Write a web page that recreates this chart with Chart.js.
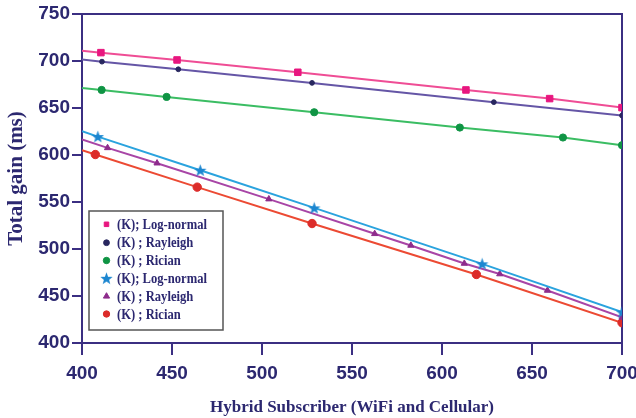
<!DOCTYPE html>
<html><head><meta charset="utf-8">
<script src="https://cdn.jsdelivr.net/npm/chart.js@4.4.1/dist/chart.umd.min.js"></script>
<style>html,body{margin:0;padding:0;background:#fff}#wrap{width:636px;height:418px;position:relative}</style>
</head><body><div id="wrap"><canvas id="c" width="636" height="418"></canvas></div>
<script>
// ---- data ----
const xTickValues = [400, 450, 500, 550, 600, 650, 700];
const yTickValues = [400, 450, 500, 550, 600, 650, 700, 750];
const seriesNames = ['(K); Log-normal', '(K) ; Rayleigh', '(K) ; Rician', '(K); Log-normal', '(K) ; Rayleigh', '(K) ; Rician'];

const logNormalTopX = [400, 410.5, 452.8, 519.9, 613.3, 659.8, 700];
const logNormalTopY = [711.0, 708.9, 701.1, 688.0, 669.2, 660.0, 650.4];
const rayleighTopX = [400, 411.1, 453.5, 527.8, 628.8, 700];
const rayleighTopY = [701.5, 699.3, 691.2, 676.7, 656.2, 642.0];
const ricianTopX = [400, 410.9, 447.0, 529.0, 609.9, 667.2, 700];
const ricianTopY = [671.4, 669.2, 661.8, 645.5, 629.2, 618.6, 610.4];
const logNormalLowX = [400, 408.8, 465.7, 529.0, 622.3, 700];
const logNormalLowY = [625.2, 619.6, 583.8, 543.7, 484.2, 432.9];
const rayleighLowX = [400, 414.2, 441.7, 503.8, 562.6, 582.7, 612.4, 632.1, 658.6, 700];
const rayleighLowY = [616.6, 607.6, 591.3, 553.1, 516.2, 503.8, 484.6, 473.4, 455.9, 427.2];
const ricianLowX = [400, 407.4, 464.0, 527.8, 619.1, 700];
const ricianLowY = [605.0, 600.5, 565.8, 527.1, 472.9, 421.6];

// ---- styles ----
const TEXT = '#2c2870';
const AXIS = '#3b2f82';

function starCanvas(size, color) {
  const c = document.createElement('canvas');
  c.width = size; c.height = size;
  const g = c.getContext('2d');
  const cx = size / 2, cy = size / 2, R = size / 2, r = R * 0.42;
  g.beginPath();
  for (let i = 0; i < 10; i++) {
    const a = -Math.PI / 2 + i * Math.PI / 5;
    const rr = i % 2 === 0 ? R : r;
    g.lineTo(cx + rr * Math.cos(a), cy + rr * Math.sin(a) + 0.6);
  }
  g.closePath();
  g.fillStyle = color; g.fill();
  return c;
}
const star = starCanvas(13, '#1c86d0');

const pts = (xs, ys) => xs.map((x, i) => ({ x, y: ys[i] }));
const rad = r => (ctx => ctx.dataIndex === 0 ? 0 : r);

const styles = [
  { line: '#ef4d95', fill: '#e8167f', pointStyle: 'rect', r: 4.6 },
  { line: '#6556a6', fill: '#28275f', pointStyle: 'circle', r: 2.4 },
  { line: '#3bbd63', fill: '#0f9444', pointStyle: 'circle', r: 3.6 },
  { line: '#2aa3de', fill: '#1c86d0', pointStyle: star, r: 6 },
  { line: '#a845a6', fill: '#8e2c8c', pointStyle: 'triangle', r: 3.6 },
  { line: '#ec4a33', fill: '#dc2c2a', pointStyle: 'circle', r: 4.2 }
];
const seriesData = [
  pts(logNormalTopX, logNormalTopY),
  pts(rayleighTopX, rayleighTopY),
  pts(ricianTopX, ricianTopY),
  pts(logNormalLowX, logNormalLowY),
  pts(rayleighLowX, rayleighLowY),
  pts(ricianLowX, ricianLowY)
];

const datasets = seriesData.map((d, i) => ({
  label: seriesNames[i],
  data: d,
  borderColor: styles[i].line,
  borderWidth: 2,
  backgroundColor: styles[i].fill,
  pointBackgroundColor: styles[i].fill,
  pointBorderColor: styles[i].fill,
  pointBorderWidth: 1,
  pointStyle: styles[i].pointStyle,
  pointRadius: rad(styles[i].r),
  tension: 0,
  fill: false
}));

const framePlugin = {
  id: 'frame',
  beforeDatasetsDraw(chart) {
    const { ctx, chartArea: a } = chart;
    ctx.save();
    ctx.strokeStyle = AXIS; ctx.lineWidth = 2;
    ctx.beginPath();
    ctx.moveTo(a.left, a.top); ctx.lineTo(a.right, a.top); ctx.lineTo(a.right, a.bottom);
    ctx.stroke();
    ctx.restore();
  },
  afterDatasetsDraw(chart) {
    const { ctx } = chart;
    ctx.save();
    const bx = 89, by = 211, bw = 134, bh = 119;
    ctx.fillStyle = '#fff';
    ctx.fillRect(bx, by, bw, bh);
    ctx.strokeStyle = '#555'; ctx.lineWidth = 1.5;
    ctx.strokeRect(bx, by, bw, bh);
    const rows = [224.3, 242.7, 260.5, 278.3, 296.3, 314];
    const legendR = [3.2, 2.9, 3.2, 6, 3.6, 3.2];
    chart.data.datasets.forEach((ds, i) => {
      const y = rows[i];
      ctx.fillStyle = styles[i].fill; ctx.strokeStyle = styles[i].fill; ctx.lineWidth = 1;
      Chart.helpers.drawPoint(ctx, { pointStyle: styles[i].pointStyle, radius: legendR[i], borderWidth: 1, rotation: 0 }, 106.5, y);
      ctx.save();
      ctx.translate(117, y + 1);
      ctx.scale(0.9, 1);
      ctx.font = 'bold 14px "Liberation Serif", "Times New Roman", serif';
      ctx.fillStyle = TEXT; ctx.textBaseline = 'middle'; ctx.textAlign = 'left';
      ctx.fillText(ds.label, 0, 0);
      ctx.restore();
    });
    ctx.restore();
  }
};

const tickFont = { family: '"Liberation Sans Narrow", "Arial Narrow", "Liberation Sans", Arial, sans-serif', size: 19, weight: 'bold' };

new Chart(document.getElementById('c'), {
  type: 'line',
  data: { datasets },
  plugins: [framePlugin],
  options: {
    responsive: false,
    animation: false,
    devicePixelRatio: 1,
    layout: { padding: { left: 0, right: 14, top: 14, bottom: 0 } },
    plugins: { legend: { display: false }, tooltip: { enabled: false } },
    scales: {
      x: {
        type: 'linear', min: 400, max: 700,
        afterBuildTicks: s => { s.ticks = xTickValues.map(v => ({ value: v })); },
        afterFit: s => { s.height = 75; s.paddingLeft = 0; s.paddingRight = 0; },
        grid: { drawOnChartArea: false, color: AXIS, lineWidth: 2, tickLength: 12, tickColor: AXIS },
        border: { color: AXIS, width: 2 },
        ticks: { color: TEXT, font: tickFont, padding: 7, maxRotation: 0 },
        title: { display: true, text: 'Hybrid Subscriber (WiFi and Cellular)', color: TEXT,
                 font: { family: '"Liberation Serif", "Times New Roman", serif', size: 17, weight: 'bold' }, padding: { top: 2, bottom: 0 } }
      },
      y: {
        type: 'linear', min: 400, max: 750,
        afterBuildTicks: s => { s.ticks = yTickValues.map(v => ({ value: v })); },
        afterFit: s => { s.width = 82; s.paddingTop = 0; s.paddingBottom = 0; },
        grid: { drawOnChartArea: false, color: AXIS, lineWidth: 2, tickLength: 10, tickColor: AXIS },
        border: { color: AXIS, width: 2 },
        ticks: { color: TEXT, font: tickFont, padding: 2 },
        title: { display: true, text: 'Total gain (ms)', color: TEXT,
                 font: { family: '"Liberation Serif", "Times New Roman", serif', size: 21, weight: 'bold' }, padding: { top: 4, bottom: 0 } }
      }
    }
  }
});
</script>
</body></html>
